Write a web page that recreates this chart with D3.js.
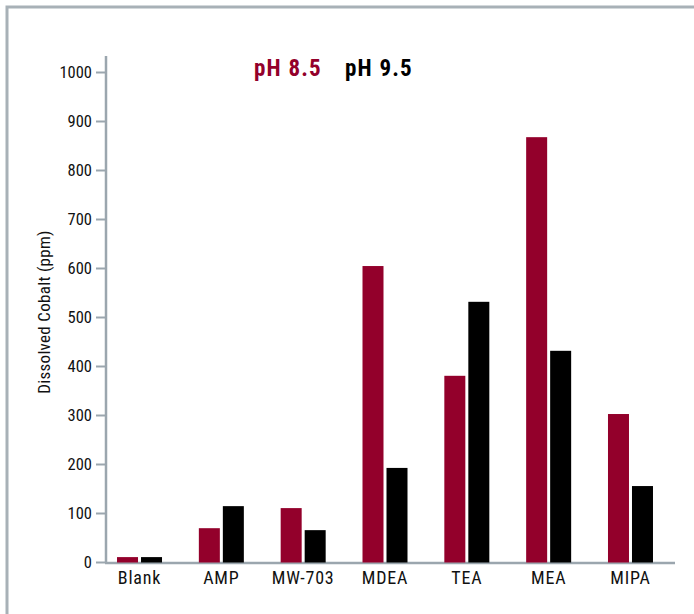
<!DOCTYPE html>
<html><head><meta charset="utf-8">
<script src="https://cdn.jsdelivr.net/npm/d3@7"></script>
<style>body{margin:0;background:#fff}svg{display:block}text{font-family:"Liberation Sans Narrow","Roboto Condensed","DejaVu Sans Condensed",sans-serif}</style>
</head><body><svg id="c" width="694" height="614"></svg>
<script>
const categories = ["Blank","AMP","MW-703","MDEA","TEA","MEA","MIPA"];
const seriesNames = ["pH 8.5","pH 9.5"];
const ph85 = [10, 69, 110, 604, 380, 867, 302];
const ph95 = [10, 114, 65, 192, 531, 431, 155];
const yTicks = [0,100,200,300,400,500,600,700,800,900,1000];
const colors = ["#93002b","#000000"];

const svg = d3.select("#c");
const gray = "#9ba6ae";
svg.append("path").attr("d","M7,614 V7 H694").attr("fill","none").attr("stroke","#a8b1b7").attr("stroke-width",3);

const y = d3.scaleLinear().domain([0,1000]).range([562,72]);
const x0 = d3.scaleBand().domain(categories).range([98.6,671.4]).paddingInner(0).paddingOuter(0);

const yAxis = svg.append("g").attr("transform","translate(106,0)")
  .call(d3.axisLeft(y).tickValues(yTicks).tickSize(10).tickPadding(4).tickFormat(d3.format("d")));
yAxis.select(".domain").remove();
yAxis.selectAll(".tick line").attr("stroke",gray).attr("stroke-width",2);
yAxis.selectAll(".tick text").attr("font-size",16.5).attr("fill","#111").attr("font-family",null);
svg.append("line").attr("x1",106).attr("x2",106).attr("y1",56).attr("y2",563).attr("stroke",gray).attr("stroke-width",2.5);
svg.append("line").attr("x1",105).attr("x2",675).attr("y1",563).attr("y2",563).attr("stroke",gray).attr("stroke-width",2.5);

const data = categories.map((c,i)=>({cat:c, vals:[ph85[i], ph95[i]]}));
const g = svg.append("g");
data.forEach(d=>{
  const c = x0(d.cat) + x0.bandwidth()/2;
  const x1 = d3.scaleBand().domain([0,1]).range([c-22.5,c+22.5]).paddingInner(0.125);
  d.vals.forEach((v,j)=>{
    g.append("rect").attr("x",x1(j)).attr("width",x1.bandwidth())
      .attr("y",y(v)).attr("height",y(0)-y(v)+0.5).attr("fill",colors[j]);
  });
  svg.append("text").attr("x",c).attr("y",584).attr("text-anchor","middle")
    .attr("font-size",18).attr("letter-spacing",0.8).attr("fill","#111").text(d.cat);
});

svg.append("text").attr("transform","translate(50,312) rotate(-90)").attr("text-anchor","middle")
  .attr("font-size",17).attr("letter-spacing",0.3).attr("fill","#111").text("Dissolved Cobalt (ppm)");

const legX = [254, 345];
seriesNames.forEach((s,i)=>{
  svg.append("text").attr("x",legX[i]).attr("y",76).attr("font-size",23).attr("font-weight","bold")
    .attr("letter-spacing",1.2).attr("fill",colors[i]).text(s);
});
</script></body></html>
